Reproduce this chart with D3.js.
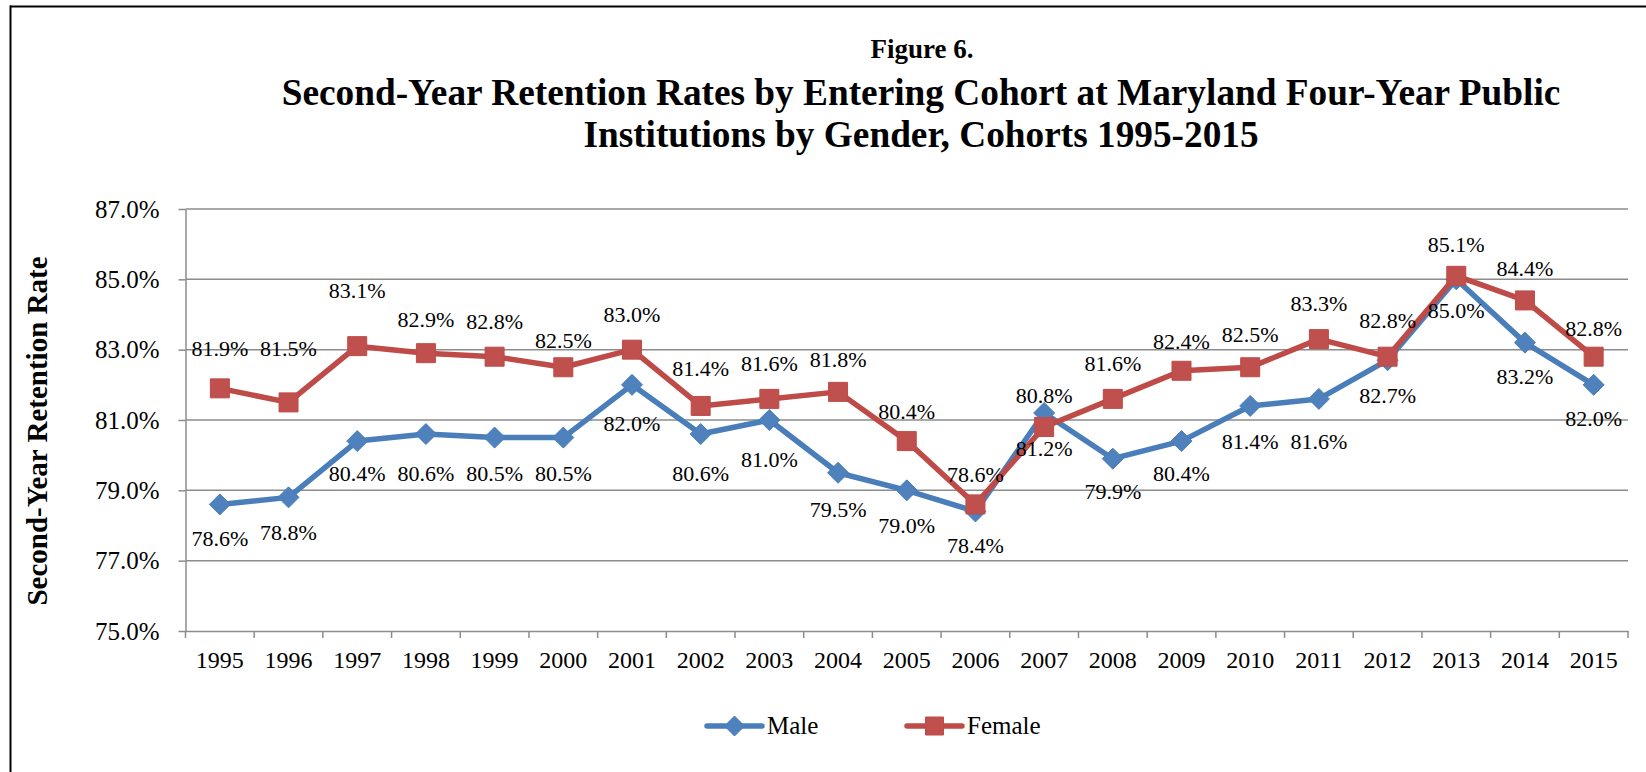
<!DOCTYPE html>
<html>
<head>
<meta charset="utf-8">
<script src="https://cdn.jsdelivr.net/npm/d3@7"></script>
<style>
  html, body { margin: 0; padding: 0; background: #fff; }
</style>
</head>
<body>
<svg id="chart" width="1646" height="772"></svg>
<script>
// ---- data ----
const years = ["1995","1996","1997","1998","1999","2000","2001","2002","2003","2004","2005",
               "2006","2007","2008","2009","2010","2011","2012","2013","2014","2015"];
const maleValues   = [78.6,78.8,80.4,80.6,80.5,80.5,82.0,80.6,81.0,79.5,79.0,78.4,81.2,79.9,80.4,81.4,81.6,82.7,85.0,83.2,82.0];
const femaleValues = [81.9,81.5,83.1,82.9,82.8,82.5,83.0,81.4,81.6,81.8,80.4,78.6,80.8,81.6,82.4,82.5,83.3,82.8,85.1,84.4,82.8];
const yTicks = [75,77,79,81,83,85,87];
const seriesNames = ["Male","Female"];
const figureLabel = "Figure 6.";
const titleLines = ["Second-Year Retention Rates by Entering Cohort at Maryland Four-Year Public",
                    "Institutions by Gender, Cohorts 1995-2015"];
const yAxisTitle = "Second-Year Retention Rate";

// ---- layout (label vertical offsets, px from marker centre) ----
const femaleLabelDy = [-40,-54,-56,-34,-35,-27,-35,-38,-36,-33,-30,-30,-32,-36,-29,-33,-36,-36,-32,-32,-28];
const maleLabelDy   = [34,35,32,39,36,36,38,39,39,37,35,34,35,33,32,35,42,35,31,34,33];

const FONT = '"Liberation Serif", "Times New Roman", Times, serif';
const svg = d3.select("#chart");
const margin = {left: 185.5, right: 1628, top: 209, bottom: 631};
const blue = "#4A7EBB", blueFill = "#4F81BD";
const red = "#BE4B48", redFill = "#C0504D";
const gridColor = "#8C8C8C";

// frame (partial, as in reference)
svg.append("line").attr("x1", 10).attr("x2", 1646).attr("y1", 6.5).attr("y2", 6.5)
   .attr("stroke", "#000").attr("stroke-width", 2);
svg.append("line").attr("x1", 10.5).attr("x2", 10.5).attr("y1", 5.5).attr("y2", 772)
   .attr("stroke", "#000").attr("stroke-width", 2);

// titles
svg.append("text").attr("x", 922).attr("y", 58).attr("text-anchor", "middle")
   .attr("font-weight", "bold").attr("font-size", 27).style("font-family", FONT).text(figureLabel);
titleLines.forEach((t, i) => {
  svg.append("text").attr("x", 921).attr("y", 105 + i * 42).attr("text-anchor", "middle")
     .attr("font-weight", "bold").attr("font-size", 37.3).style("font-family", FONT).text(t);
});

// scales
const x = d3.scaleBand().domain(years).range([margin.left, margin.right]).padding(0);
const y = d3.scaleLinear().domain([75, 87]).range([margin.bottom, margin.top]);

// gridlines
svg.append("g").selectAll("line").data(yTicks.slice(1)).join("line")
   .attr("x1", margin.left).attr("x2", margin.right)
   .attr("y1", d => y(d)).attr("y2", d => y(d))
   .attr("stroke", gridColor).attr("stroke-width", 1.5);

// y axis
const yAxis = d3.axisLeft(y).tickValues(yTicks).tickFormat(d => d.toFixed(1) + "%")
  .tickSizeInner(7).tickSizeOuter(0).tickPadding(19);
const gy = svg.append("g").attr("transform", `translate(${margin.left},0)`).call(yAxis);
gy.select(".domain").attr("stroke", gridColor).attr("stroke-width", 1.5);
gy.selectAll(".tick line").attr("stroke", gridColor).attr("stroke-width", 1.5);
gy.selectAll(".tick text").attr("font-size", 25).attr("fill", "#000").style("font-family", FONT);

// x axis
const xAxis = d3.axisBottom(x).tickSize(0).tickPadding(20);
const gx = svg.append("g").attr("transform", `translate(0,${margin.bottom})`).call(xAxis);
gx.select(".domain").attr("stroke", gridColor).attr("stroke-width", 1.5);
gx.selectAll(".tick text").attr("font-size", 24).attr("fill", "#000").style("font-family", FONT);
// category boundary ticks
const boundaries = years.map(d => x(d)).concat([x(years[years.length - 1]) + x.bandwidth()]);
svg.append("g").selectAll("line").data(boundaries).join("line")
   .attr("x1", d => d).attr("x2", d => d)
   .attr("y1", margin.bottom).attr("y2", margin.bottom + 7)
   .attr("stroke", gridColor).attr("stroke-width", 1.5);

// y axis title
svg.append("text").attr("transform", `translate(47,431) rotate(-90)`)
   .attr("text-anchor", "middle").attr("font-weight", "bold").attr("font-size", 29)
   .style("font-family", FONT).text(yAxisTitle);

const cx = d => x(d) + x.bandwidth() / 2;
const line = d3.line().x(d => cx(d.year)).y(d => y(d.v));
const male = years.map((yr, i) => ({year: yr, v: maleValues[i]}));
const female = years.map((yr, i) => ({year: yr, v: femaleValues[i]}));

const diamond = r => `M0,${-r}L${r},0L0,${r}L${-r},0Z`;
const square = s => `M${-s/2},${-s/2}h${s}v${s}h${-s}Z`;

// male series
svg.append("path").datum(male).attr("d", line).attr("fill", "none")
   .attr("stroke", blue).attr("stroke-width", 5.5).attr("stroke-linejoin", "round").attr("stroke-linecap", "round");
svg.append("g").selectAll("path").data(male).join("path")
   .attr("transform", d => `translate(${cx(d.year)},${y(d.v)})`)
   .attr("d", diamond(10.5)).attr("fill", blueFill).attr("stroke", blue).attr("stroke-width", 1);

// female series
svg.append("path").datum(female).attr("d", line).attr("fill", "none")
   .attr("stroke", red).attr("stroke-width", 5.5).attr("stroke-linejoin", "round").attr("stroke-linecap", "round");
svg.append("g").selectAll("path").data(female).join("path")
   .attr("transform", d => `translate(${cx(d.year)},${y(d.v)})`)
   .attr("d", square(19)).attr("fill", redFill).attr("stroke", red).attr("stroke-width", 1);

// data labels
svg.append("g").selectAll("text").data(female).join("text")
   .attr("x", d => cx(d.year)).attr("y", (d, i) => y(d.v) + femaleLabelDy[i])
   .attr("dy", "0.35em").attr("text-anchor", "middle").attr("font-size", 22)
   .style("font-family", FONT).text(d => d.v.toFixed(1) + "%");
svg.append("g").selectAll("text").data(male).join("text")
   .attr("x", d => cx(d.year)).attr("y", (d, i) => y(d.v) + maleLabelDy[i])
   .attr("dy", "0.35em").attr("text-anchor", "middle").attr("font-size", 22)
   .style("font-family", FONT).text(d => d.v.toFixed(1) + "%");

// legend
const legend = [
  {name: seriesNames[0], x0: 707, stroke: blue, fill: blueFill, shape: diamond(10)},
  {name: seriesNames[1], x0: 907, stroke: red, fill: redFill, shape: square(18)}
];
const lg = svg.append("g").selectAll("g").data(legend).join("g")
   .attr("transform", d => `translate(${d.x0},726)`);
lg.append("line").attr("x1", 0).attr("x2", 55).attr("y1", 0).attr("y2", 0)
  .attr("stroke", d => d.stroke).attr("stroke-width", 5.5).attr("stroke-linecap", "round");
lg.append("path").attr("transform", "translate(27.5,0)").attr("d", d => d.shape)
  .attr("fill", d => d.fill).attr("stroke", d => d.stroke);
lg.append("text").attr("x", 60).attr("y", 8).attr("font-size", 25)
  .style("font-family", FONT).text(d => d.name);
</script>
</body>
</html>
